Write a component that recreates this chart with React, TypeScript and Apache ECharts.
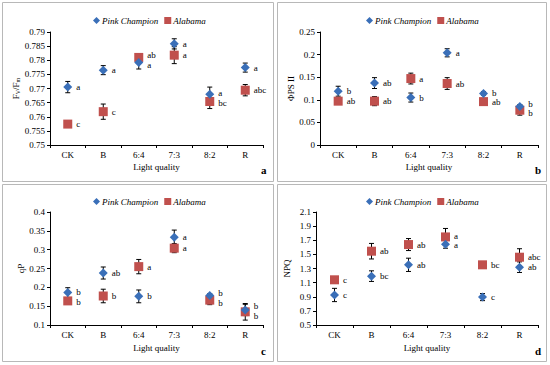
import React, { useEffect, useRef } from "react";
import * as echarts from "echarts";

const categories = ["CK", "B", "6:4", "7:3", "8:2", "R"];
const seriesNames = ["Pink Champion", "Alabama"];

// Panel a: Fv/Fm
const fvfmPink = [0.7705, 0.7765, 0.7792, 0.7858, 0.768, 0.7774];
const fvfmPinkErr = [0.002, 0.0016, 0.0023, 0.0018, 0.0025, 0.0016];
const fvfmAla = [0.7574, 0.7618, 0.781, 0.7818, 0.7654, 0.7694];
const fvfmAlaErr = [0.0005, 0.0027, 0.0008, 0.003, 0.0025, 0.002];
const fvfmPinkLetters = ["a", "a", "a", "a", "a", "a"];
const fvfmAlaLetters = ["c", "c", "ab", "a", "bc", "abc"];

// Panel b: ΦPSII
const psiiPink = [0.119, 0.137, 0.105, 0.204, 0.114, 0.085];
const psiiPinkErr = [0.011, 0.012, 0.01, 0.009, 0.004, 0.004];
const psiiAla = [0.097, 0.097, 0.147, 0.136, 0.096, 0.077];
const psiiAlaErr = [0.003, 0.01, 0.012, 0.013, 0.007, 0.011];
const psiiPinkLetters = ["b", "ab", "b", "a", "b", "b"];
const psiiAlaLetters = ["ab", "ab", "a", "ab", "ab", "b"];

// Panel c: qP
const qpPink = [0.186, 0.238, 0.176, 0.333, 0.178, 0.14];
const qpPinkErr = [0.013, 0.016, 0.017, 0.019, 0.005, 0.015];
const qpAla = [0.164, 0.177, 0.255, 0.304, 0.166, 0.135];
const qpAlaErr = [0.008, 0.018, 0.019, 0.012, 0.012, 0.022];
const qpPinkLetters = ["b", "ab", "b", "a", "b", "b"];
const qpAlaLetters = ["b", "b", "a", "a", "b", "b"];

// Panel d: NPQ
const npqPink = [0.925, 1.192, 1.352, 1.643, 0.895, 1.319];
const npqPinkErr = [0.094, 0.075, 0.094, 0.056, 0.05, 0.075];
const npqAla = [1.14, 1.545, 1.639, 1.747, 1.352, 1.46];
const npqAlaErr = [0.01, 0.11, 0.085, 0.12, 0.01, 0.12];
const npqPinkLetters = ["c", "bc", "ab", "a", "c", "ab"];
const npqAlaLetters = ["c", "ab", "ab", "a", "bc", "abc"];

const yNames = ["{n|F}{s|V}{n|/F}{s|m}", "ΦPS II", "qP", "NPQ"];
const yMin = [0.75, 0, 0.1, 0.5];
const yMax = [0.79, 0.25, 0.4, 2.1];
const yInterval = [0.005, 0.05, 0.05, 0.2];
const panelLetters = ["a", "b", "c", "d"];

const FONT = "Liberation Serif";
const BLUE = "#3A6FB8";
const RED = "#C0504D";

const panels = [
  { pink: fvfmPink, pinkErr: fvfmPinkErr, ala: fvfmAla, alaErr: fvfmAlaErr, pl: fvfmPinkLetters, al: fvfmAlaLetters },
  { pink: psiiPink, pinkErr: psiiPinkErr, ala: psiiAla, alaErr: psiiAlaErr, pl: psiiPinkLetters, al: psiiAlaLetters },
  { pink: qpPink, pinkErr: qpPinkErr, ala: qpAla, alaErr: qpAlaErr, pl: qpPinkLetters, al: qpAlaLetters },
  { pink: npqPink, pinkErr: npqPinkErr, ala: npqAla, alaErr: npqAlaErr, pl: npqPinkLetters, al: npqAlaLetters },
];

const grids = [
  { left: 50, top: 32, width: 213, height: 113 },
  { left: 320, top: 32, width: 218, height: 113 },
  { left: 50, top: 212, width: 213, height: 113 },
  { left: 316, top: 212, width: 222, height: 113 },
];
const boxes = [
  { x: 2.5, y: 2.5, w: 271, h: 179 },
  { x: 277.5, y: 2.5, w: 269, h: 179 },
  { x: 2.5, y: 184.5, w: 271, h: 177 },
  { x: 277.5, y: 184.5, w: 269, h: 177 },
];
const legendPos = [
  { left: 88, top: 11 },
  { left: 361, top: 11 },
  { left: 88, top: 192 },
  { left: 361, top: 192 },
];
const letterPos = [
  { x: 261, y: 164 },
  { x: 535, y: 164 },
  { x: 261, y: 345 },
  { x: 535, y: 345 },
];

function errRender(params: any, api: any) {
  const x = api.value(0);
  const lo = api.coord([x, api.value(1)]);
  const hi = api.coord([x, api.value(2)]);
  const cw = 2.5;
  const style = { stroke: "#000", lineWidth: 1 };
  return {
    type: "group",
    children: [
      { type: "line", shape: { x1: lo[0], y1: lo[1], x2: hi[0], y2: hi[1] }, style },
      { type: "line", shape: { x1: lo[0] - cw, y1: lo[1], x2: lo[0] + cw, y2: lo[1] }, style },
      { type: "line", shape: { x1: hi[0] - cw, y1: hi[1], x2: hi[0] + cw, y2: hi[1] }, style },
    ],
  };
}

const labelBase = {
  show: true, position: "right", distance: 4,
  fontFamily: FONT, fontSize: 9, color: "#000", textBorderWidth: 0,
  rich: { t: { fontFamily: FONT, fontSize: 9, color: "#000" } },
};

export default function App() {
  const ref = useRef<HTMLDivElement>(null);
  useEffect(() => {
    document.body.style.margin = "0";
    if (!ref.current) return;
    const chart = echarts.init(ref.current, undefined, { renderer: "svg" });

    const series: any[] = [];
    panels.forEach((p, i) => {
      const range = yMax[i] - yMin[i];
      const h = grids[i].height;
      const errPink = categories.map((_, k) => [k, p.pink[k] - p.pinkErr[k], p.pink[k] + p.pinkErr[k]]);
      const errAla = categories.map((_, k) => [k, p.ala[k] - p.alaErr[k], p.ala[k] + p.alaErr[k]]);
      const shift = (k: number, sign: number) => {
        const d = (p.pink[k] - p.ala[k]) / range;
        const px = Math.abs(d) * h;
        if (px < 9.5) {
          const dir = d >= 0 ? 1 : -1;
          return [0, sign * dir * (9.5 - px) / 2];
        }
        return [0, 0];
      };
      series.push({
        type: "custom", xAxisIndex: i, yAxisIndex: i, renderItem: errRender, data: errAla, z: 1, silent: true,
      });
      series.push({
        type: "custom", xAxisIndex: i, yAxisIndex: i, renderItem: errRender, data: errPink, z: 1, silent: true,
      });
      series.push({
        name: seriesNames[1], type: "scatter", xAxisIndex: i, yAxisIndex: i,
        symbol: "rect", symbolSize: 9, itemStyle: { color: RED, opacity: 1 }, z: 3,
        data: categories.map((_, k) => ({ value: [k, p.ala[k]], label: { offset: shift(k, 1) } })),
        label: { ...labelBase, formatter: (d: any) => "{t|" + p.al[d.dataIndex] + "}" },
      });
      series.push({
        name: seriesNames[0], type: "scatter", xAxisIndex: i, yAxisIndex: i,
        symbol: "diamond", symbolSize: 9, itemStyle: { color: BLUE, opacity: 1 }, z: 4,
        data: categories.map((_, k) => ({ value: [k, p.pink[k]], label: { offset: shift(k, -1) } })),
        label: { ...labelBase, formatter: (d: any) => "{t|" + p.pl[d.dataIndex] + "}" },
      });
    });

    const option: any = {
      animation: false,
      backgroundColor: "#fff",
      textStyle: { fontFamily: FONT },
      grid: grids.map((g) => ({ ...g, containLabel: false })),
      legend: legendPos.map((lp) => ({
        ...lp,
        data: [
          { name: seriesNames[0], icon: "diamond" },
          { name: seriesNames[1], icon: "rect" },
        ],
        itemWidth: 7, itemHeight: 7, itemGap: 6,
        selectedMode: false,
        textStyle: { fontFamily: FONT, fontSize: 9, fontStyle: "italic", color: "#000", padding: [0, 0, 0, -3] },
      })),
      xAxis: grids.map((_, i) => ({
        type: "category", gridIndex: i, data: categories,
        name: "Light quality", nameLocation: "middle", nameGap: i < 2 ? 17 : 18,
        nameTextStyle: { fontFamily: FONT, fontSize: 9, color: "#000" },
        axisLine: { lineStyle: { color: "#000", width: 1 } },
        axisTick: { show: true, length: 3, lineStyle: { color: "#000" } },
        axisLabel: { fontFamily: FONT, fontSize: 9, color: "#000", margin: 5 },
        splitLine: { show: false },
      })),
      yAxis: grids.map((_, i) => ({
        type: "value", gridIndex: i, min: yMin[i], max: yMax[i], interval: yInterval[i],
        name: yNames[i], nameLocation: "middle", nameGap: i === 0 ? 28 : i === 1 ? 24 : 25,
        nameTextStyle: {
          fontFamily: FONT, fontSize: 9, color: "#000",
          rich: {
            n: { fontFamily: FONT, fontSize: 9, color: "#000" },
            s: { fontFamily: FONT, fontSize: 6, color: "#000", verticalAlign: "bottom", padding: [4, 0, 0, 0] },
          },
        },
        axisLine: { show: true, lineStyle: { color: "#000", width: 1 } },
        axisTick: { show: true, length: 3, lineStyle: { color: "#000" } },
        axisLabel: {
          fontFamily: FONT, fontSize: 9, color: "#000", margin: 5,
          formatter: (v: number) => String(parseFloat(v.toFixed(4))),
        },
        splitLine: { show: false },
      })),
      graphic: [
        ...boxes.map((b) => ({
          type: "rect", shape: { x: b.x, y: b.y, width: b.w, height: b.h },
          style: { fill: "none", stroke: "#b8b8b8", lineWidth: 1 }, silent: true, z: 0,
        })),
        ...letterPos.map((lp, i) => ({
          type: "text", x: lp.x, y: lp.y,
          style: { text: panelLetters[i], fontFamily: FONT, fontSize: 11, fontWeight: "bold", fill: "#000" },
        })),
      ],
      series,
    };
    chart.setOption(option);
    return () => chart.dispose();
  }, []);
  return <div ref={ref} style={{ width: 550, height: 365 }} />;
}
